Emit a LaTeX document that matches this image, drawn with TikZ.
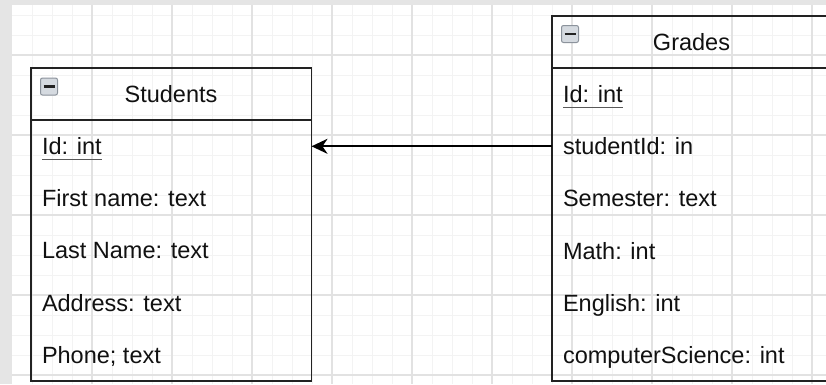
\documentclass[tikz,border=0pt]{standalone}
\usepackage{fontspec}
\setmainfont{Liberation Sans}
\usetikzlibrary{arrows.meta}
\definecolor{bordergray}{HTML}{E5E5E5}
\definecolor{minorgrid}{HTML}{F3F3F3}
\definecolor{majorgrid}{HTML}{E2E2E2}
\definecolor{boxline}{HTML}{222222}
\definecolor{iconfill}{HTML}{D5DAE0}
\definecolor{iconline}{HTML}{8C939C}
\definecolor{txt}{HTML}{111111}
\begin{document}
\begin{tikzpicture}[x=1pt,y=-1pt,
  table/.style={draw=boxline, line width=1.8pt, rectangle, inner sep=0pt, outer sep=0pt, anchor=north west},
  headline/.style={draw=boxline, line width=1.8pt},
  field/.style={anchor=west, inner sep=0pt, outer sep=0pt, text height=16.8pt, text depth=0pt, font=\fontsize{23.5}{28}\selectfont, text=txt},
  title/.style={field, anchor=center},
  icon/.style={draw=iconline, fill=iconfill, rounded corners=2pt, minimum size=17pt, inner sep=0pt, line width=1pt},
  minusbar/.style={draw=boxline, line width=2.5pt},
  keyline/.style={draw=black!65, line width=1.2pt},
  fk/.style={draw=black, line width=1.8pt, -{Stealth[length=16pt,width=15pt,inset=5pt]}},
  minorl/.style={draw=minorgrid, line width=1pt},
  majorl/.style={draw=majorgrid, line width=1.2pt},
]
\clip (0,0) rectangle (826,384);
\fill[bordergray] (0,0) rectangle (826,384);
\fill[white] (12,5) rectangle (826,384);
\foreach \x in {32,52,...,812} \draw[minorl] (\x,5) -- (\x,384);
\foreach \y in {15,35,...,375} \draw[minorl] (12,\y) -- (826,\y);
\foreach \x in {92,172,...,812} \draw[majorl] (\x,5) -- (\x,384);
\foreach \y in {55,135,...,375} \draw[majorl] (12,\y) -- (826,\y);

% Students table
\node[table, minimum width=280.5pt, minimum height=313pt] (students) at (31,68) {};
\draw[headline] ([yshift=-52pt]students.north west) -- ([yshift=-52pt]students.north east);
\node[icon] (sicon) at (49,86.5) {};
\draw[minusbar] ([xshift=-5.5pt]sicon.center) -- ([xshift=5.5pt]sicon.center);
\node[title] (stitle) at (171,94) {Students};
\node[field] (s1) at (42,146.1) {Id: int};
\draw[keyline] ([yshift=-5pt]s1.south west) -- ([yshift=-5pt]s1.south east);
\node[field] (s2) at (42,198.3) {First name: text};
\node[field] (s3) at (42,250.5) {Last Name: text};
\node[field] (s4) at (42,302.7) {Address: text};
\node[field] (s5) at (42,354.9) {Phone; text};

% Grades table
\node[table, minimum width=279pt, minimum height=365pt] (grades) at (552,16) {};
\draw[headline] ([yshift=-52pt]grades.north west) -- ([yshift=-52pt]grades.north east);
\node[icon] (gicon) at (570,34) {};
\draw[minusbar] ([xshift=-5.5pt]gicon.center) -- ([xshift=5.5pt]gicon.center);
\node[title] (gtitle) at (691.5,42) {Grades};
\node[field] (g1) at (563,94.1) {Id: int};
\draw[keyline] ([yshift=-5pt]g1.south west) -- ([yshift=-5pt]g1.south east);
\node[field] (g2) at (563,146.3) {studentId: in};
\node[field] (g3) at (563,198.4) {Semester: text};
\node[field] (g4) at (563,250.6) {Math: int};
\node[field] (g5) at (563,302.8) {English: int};
\node[field] (g6) at (563,354.9) {computerScience: int};

% relation
\draw[fk] (grades.west |- g2.west) -- (students.east |- g2.west);
\end{tikzpicture}
\end{document}
